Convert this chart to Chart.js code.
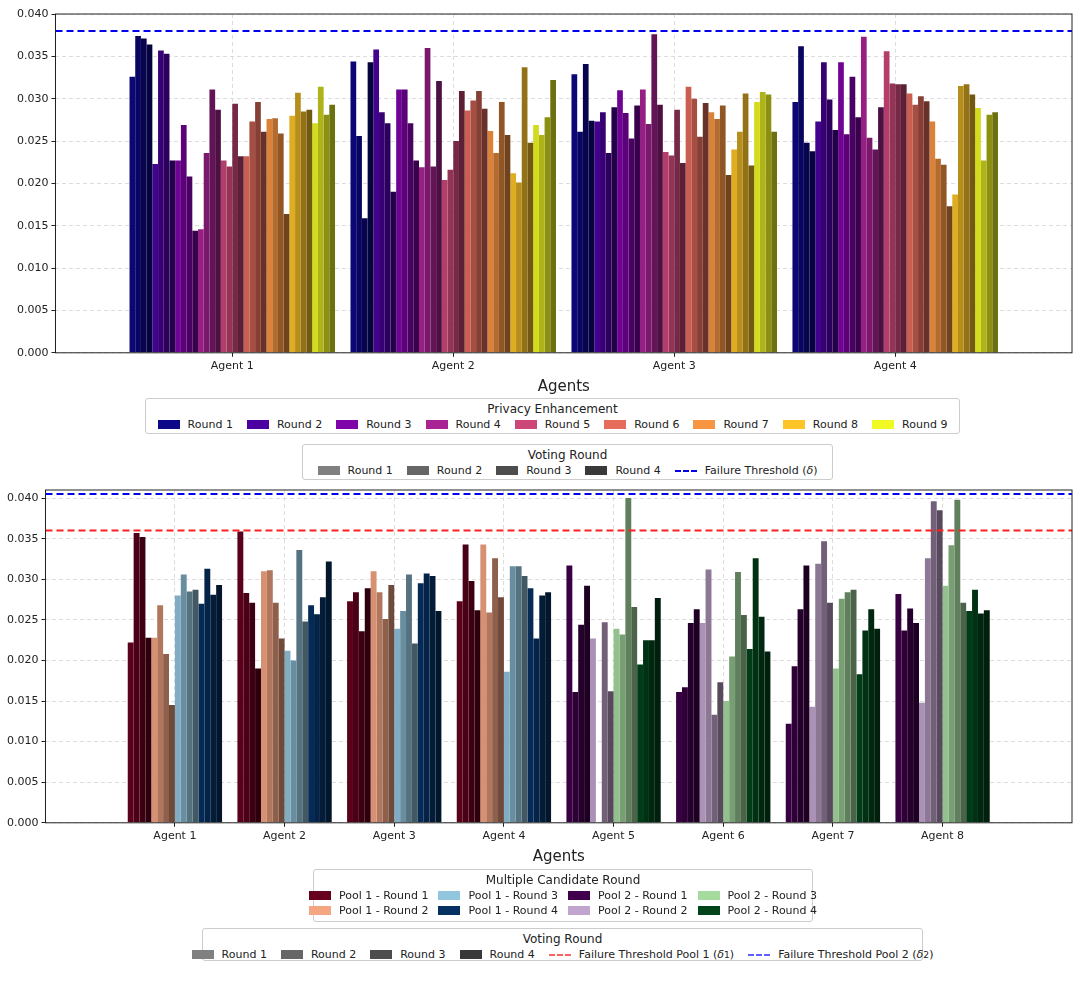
<!DOCTYPE html>
<html>
<head>
<meta charset="utf-8">
<script src="https://cdn.jsdelivr.net/npm/chart.js@4.4.1/dist/chart.umd.min.js"></script>
<style>
body { margin:0; background:#fff; font-family:"DejaVu Sans", sans-serif; }
#wrap { position:relative; width:1080px; height:995px; }
.cv { position:absolute; left:0; }
.lg { position:absolute; border:1px solid #ccc; border-radius:3px; font-size:11px; color:#222; text-align:center; padding:3px 4px; box-sizing:border-box; background:#fff; }
.lg .t { font-size:12px; margin-bottom:2px; }
.row { display:flex; justify-content:center; }
.it { display:flex; align-items:center; margin:0 7px; white-space:nowrap; }
.sw { width:22px; height:9px; margin-right:8px; flex:none; }
.dl { width:22px; height:0; border-top:2px dashed; margin-right:8px; flex:none; }
.grid4 { display:grid; grid-template-columns:repeat(4, auto); column-gap:10px; row-gap:2px; justify-content:center; }
.grid4 .it { margin:0; }
</style>
</head>
<body>
<div id="wrap">
  <div class="cv" style="top:0;width:1080px;height:400px"><canvas id="c1"></canvas></div>
  <div class="lg" style="left:145px;top:398px;width:815px;height:36px"><div class="t">Privacy Enhancement</div><div class="row" id="lgPE"></div></div>
  <div class="lg" style="left:302px;top:444px;width:531px;height:36px"><div class="t">Voting Round</div><div class="row" id="lgV1"></div></div>
  <div class="cv" style="top:480px;width:1080px;height:390px"><canvas id="c2"></canvas></div>
  <div class="lg" style="left:313px;top:869px;width:500px;height:53px"><div class="t">Multiple Candidate Round</div><div class="grid4" id="lgMC"></div></div>
  <div class="lg" style="left:202px;top:928px;width:721px;height:33px"><div class="t">Voting Round</div><div class="row" id="lgV2"></div></div>
</div>
<script>
// ---- top chart data: per agent, 9 privacy rounds x 4 voting rounds
var topAgents = ['Agent 1', 'Agent 2', 'Agent 3', 'Agent 4'];
var topAgent1 = [[.0326,.0374,.0371,.0364],[.0223,.0357,.0353,.0227],[.0227,.0269,.0208,.0144],[.0146,.0236,.0311,.0287],[.0227,.0220,.0294,.0232],[.0232,.0273,.0296,.0261],[.0276,.0277,.0259,.0164],[.0280,.0307,.0285,.0287],[.0271,.0314,.0281,.0293]];
var topAgent2 = [[.0344,.0256,.0159,.0343],[.0358,.0284,.0271,.0190],[.0311,.0311,.0271,.0227],[.0219,.0360,.0220,.0321],[.0204,.0216,.0250,.0309],[.0286,.0298,.0309,.0288],[.0262,.0236,.0296,.0257],[.0212,.0201,.0337,.0248],[.0269,.0257,.0278,.0322]];
var topAgent3 = [[.0329,.0261,.0341,.0274],[.0273,.0284,.0236,.0290],[.0310,.0283,.0253,.0292],[.0311,.0270,.0376,.0293],[.0237,.0233,.0287,.0224],[.0314,.0300,.0255,.0295],[.0284,.0276,.0292,.0210],[.0240,.0261,.0306,.0221],[.0296,.0308,.0305,.0261]];
var topAgent4 = [[.0296,.0362,.0248,.0238],[.0273,.0343,.0299,.0263],[.0343,.0258,.0326,.0278],[.0373,.0254,.0240,.0290],[.0356,.0318,.0317,.0317],[.0306,.0293,.0303,.0297],[.0273,.0229,.0222,.0173],[.0187,.0315,.0317,.0305],[.0289,.0227,.0281,.0284]];
var peLabels = ['Round 1','Round 2','Round 3','Round 4','Round 5','Round 6','Round 7','Round 8','Round 9'];
var peColors = ['#0d0887','#4c02a1','#7e03a8','#a92395','#cc4778','#e66c5c','#f89540','#fdc527','#f0f921'];
var topThreshold = 0.038;

// ---- bottom chart data: per agent, 4 candidate rounds x 4 voting rounds
var botAgents = ['Agent 1','Agent 2','Agent 3','Agent 4','Agent 5','Agent 6','Agent 7','Agent 8'];
var botAgent1 = [[.0222,.0357,.0352,.0228],[.0228,.0268,.0208,.0145],[.0280,.0306,.0285,.0287],[.0270,.0313,.0281,.0293]];
var botAgent2 = [[.0359,.0283,.0271,.0190],[.0310,.0311,.0271,.0227],[.0212,.0200,.0336,.0248],[.0268,.0257,.0278,.0322]];
var botAgent3 = [[.0273,.0284,.0236,.0289],[.0310,.0284,.0251,.0293],[.0239,.0261,.0306,.0221],[.0295,.0307,.0304,.0261]];
var botAgent4 = [[.0273,.0343,.0298,.0262],[.0343,.0259,.0326,.0278],[.0186,.0316,.0316,.0304],[.0289,.0227,.0280,.0284]];
var botAgent5 = [[.0317,.0161,.0244,.0292],[.0227,0,.0247,.0162],[.0239,.0232,.0400,.0266],[.0195,.0225,.0225,.0277]];
var botAgent6 = [[.0161,.0167,.0246,.0263],[.0246,.0312,.0133,.0173],[.0150,.0205,.0309,.0256],[.0214,.0326,.0254,.0211]];
var botAgent7 = [[.0122,.0193,.0263,.0317],[.0143,.0319,.0347,.0271],[.0190,.0276,.0284,.0287],[.0183,.0237,.0263,.0239]];
var botAgent8 = [[.0282,.0237,.0264,.0246],[.0148,.0326,.0396,.0385],[.0292,.0342,.0398,.0271],[.0261,.0287,.0258,.0262]];
var pool1Colors = ['#67001f','#f4a582','#92c5de','#053061'];
var pool2Colors = ['#40004b','#c2a5cf','#a6dba0','#00441b'];
var mcLabels = ['Pool 1 - Round 1','Pool 1 - Round 2','Pool 1 - Round 3','Pool 1 - Round 4','Pool 2 - Round 1','Pool 2 - Round 2','Pool 2 - Round 3','Pool 2 - Round 4'];
var threshPool1 = 0.036;
var threshPool2 = 0.0405;

var votingLabels = ['Round 1','Round 2','Round 3','Round 4'];
var votingGreys = ['#808080','#666666','#4d4d4d','#393939'];
var shade = [0.88, 0.72, 0.58, 0.45];
var yTicks = [0, 0.005, 0.010, 0.015, 0.020, 0.025, 0.030, 0.035, 0.040];

function darken(hex, f) {
    var n = parseInt(hex.slice(1), 16);
    var r = Math.round(((n >> 16) & 255) * f), g = Math.round(((n >> 8) & 255) * f), b = Math.round((n & 255) * f);
    return 'rgb(' + r + ',' + g + ',' + b + ')';
}

// category axis with extra side margin, like matplotlib's default x margins
class PadCategory extends Chart.CategoryScale {
    configure() {
        super.configure();
        const m = this.options.sideMargin || 0;
        this._startValue -= m;
        this._valueRange += 2 * m;
    }
}
PadCategory.id = 'padcat';
PadCategory.defaults = Chart.CategoryScale.defaults;
Chart.register(PadCategory);

Chart.defaults.font.family = '"DejaVu Sans", sans-serif';
Chart.defaults.color = '#222';
Chart.defaults.animation = false;

// dashed threshold lines + frame
const extras = {
    id: 'extras',
    afterDatasetsDraw(chart, args, opts) {
        const ctx = chart.ctx, a = chart.chartArea, y = chart.scales.y;
        ctx.save();
        (opts.lines || []).forEach(l => {
            ctx.strokeStyle = l.color; ctx.lineWidth = 2; ctx.setLineDash([7, 4]);
            ctx.beginPath();
            const py = y.getPixelForValue(l.v);
            ctx.moveTo(a.left, py); ctx.lineTo(a.right, py); ctx.stroke();
        });
        ctx.setLineDash([]);
        ctx.strokeStyle = '#222'; ctx.lineWidth = 1;
        ctx.strokeRect(a.left, a.top, a.right - a.left, a.bottom - a.top);
        ctx.restore();
    }
};

function axisOpts(max, margin) {
    return {
        x: { type: 'padcat', sideMargin: margin, offset: true,
             grid: { offset: false, color: '#ddd', tickColor: '#222', tickLength: 4 },
             border: { dash: [4, 3], display: false }, ticks: { font: { size: 11 } },
             title: { display: true, text: 'Agents', font: { size: 15 }, padding: { top: 2 } } },
        y: { min: 0, max: max, grid: { color: '#ddd', tickColor: '#222', tickLength: 4 },
             border: { dash: [4, 3], display: false },
             ticks: { font: { size: 11 }, callback: v => v.toFixed(3) },
             afterBuildTicks: s => { s.ticks = yTicks.map(v => ({ value: v })); } }
    };
}

// top chart datasets
var topAll = [topAgent1, topAgent2, topAgent3, topAgent4];
var ds1 = [];
for (let r = 0; r < 9; r++) {
    for (let v = 0; v < 4; v++) {
        ds1.push({ label: peLabels[r] + ' / ' + votingLabels[v], data: topAll.map(a => a[r][v]),
                   backgroundColor: darken(peColors[r], shade[v]), borderWidth: 0 });
    }
}
new Chart(document.getElementById('c1'), {
    type: 'bar',
    data: { labels: topAgents, datasets: ds1 },
    options: {
        responsive: true, maintainAspectRatio: false,
        layout: { padding: { left: 14, right: 8, top: 14, bottom: 0 } },
        datasets: { bar: { categoryPercentage: 0.93, barPercentage: 1.0 } },
        plugins: { legend: { display: false }, tooltip: { enabled: false },
                   extras: { lines: [{ v: topThreshold, color: '#0000ee' }] } },
        scales: axisOpts(0.040, 0.15)
    },
    plugins: [extras]
});

// bottom chart datasets
var botAll = [botAgent1, botAgent2, botAgent3, botAgent4, botAgent5, botAgent6, botAgent7, botAgent8];
var ds2 = [];
for (let r = 0; r < 4; r++) {
    for (let v = 0; v < 4; v++) {
        ds2.push({ label: 'Round ' + (r + 1) + ' / ' + votingLabels[v], data: botAll.map(a => a[r][v]),
                   backgroundColor: botAll.map((a, i) => darken(i < 4 ? pool1Colors[r] : pool2Colors[r], shade[v])),
                   borderWidth: 0 });
    }
}
new Chart(document.getElementById('c2'), {
    type: 'bar',
    data: { labels: botAgents, datasets: ds2 },
    options: {
        responsive: true, maintainAspectRatio: false,
        layout: { padding: { left: 4, right: 8, top: 10, bottom: 0 } },
        datasets: { bar: { categoryPercentage: 0.86, barPercentage: 1.0 } },
        plugins: { legend: { display: false }, tooltip: { enabled: false },
                   extras: { lines: [{ v: threshPool1, color: '#ff2020' }, { v: threshPool2, color: '#0000ee' }] } },
        scales: axisOpts(0.041, 0.34)
    },
    plugins: [extras]
});

// html legends
function item(html) { const d = document.createElement('div'); d.className = 'it'; d.innerHTML = html; return d; }
var pe = document.getElementById('lgPE');
peLabels.forEach((l, i) => pe.appendChild(item('<span class="sw" style="background:' + peColors[i] + '"></span>' + l)));
var v1 = document.getElementById('lgV1');
votingLabels.forEach((l, i) => v1.appendChild(item('<span class="sw" style="background:' + votingGreys[i] + '"></span>' + l)));
v1.appendChild(item('<span class="dl" style="border-color:#0000ee"></span>Failure Threshold (<i>δ</i>)'));
var mc = document.getElementById('lgMC');
var mcCols = pool1Colors.concat(pool2Colors);
// matplotlib fills columns top-down: 2 rows x 4 columns
var order = [0, 2, 4, 6, 1, 3, 5, 7];
order.forEach(i => mc.appendChild(item('<span class="sw" style="background:' + mcCols[i] + '"></span>' + mcLabels[i])));
var v2 = document.getElementById('lgV2');
votingLabels.forEach((l, i) => v2.appendChild(item('<span class="sw" style="background:' + votingGreys[i] + '"></span>' + l)));
v2.appendChild(item('<span class="dl" style="border-color:#ff6060"></span>Failure Threshold Pool 1 (<i>δ</i><sub>1</sub>)'));
v2.appendChild(item('<span class="dl" style="border-color:#6060ff"></span>Failure Threshold Pool 2 (<i>δ</i><sub>2</sub>)'));
</script>
</body>
</html>
